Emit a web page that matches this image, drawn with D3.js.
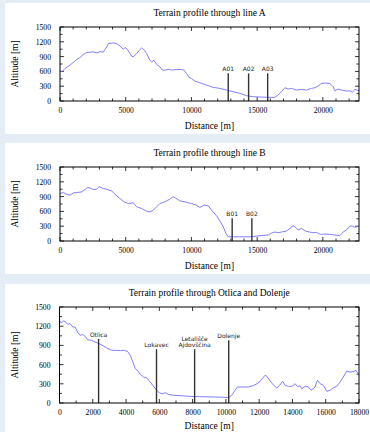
<!DOCTYPE html>
<html>
<head>
<meta charset="utf-8">
<script src="https://cdn.jsdelivr.net/npm/d3@7"></script>
<style>
  html, body { margin: 0; padding: 0; background: #e4ecf5; }
  svg { display: block; }
</style>
</head>
<body>
<svg id="chart" width="370" height="432"></svg>
<script>
// Terrain profiles: [distance m, altitude m]
const profileA = [
  [0,612],[130,592],[380,659],[760,726],[1270,841],[1520,881],[1770,942],[2030,982],
  [2530,995],[2790,975],[3040,1000],[3290,990],[3550,1096],[3680,1164],[4060,1177],
  [4310,1164],[4560,1117],[4820,1049],[4940,1083],[5070,1063],[5200,1016],[5450,908],
  [5580,895],[5830,962],[6080,1043],[6210,1076],[6460,1016],[6590,962],[6840,827],
  [6970,794],[7150,827],[7350,740],[7600,693],[7780,626],[7980,626],[8240,646],
  [8490,626],[8870,639],[9250,639],[9430,626],[9630,558],[9810,478],[10010,457],
  [10260,404],[10640,370],[11150,323],[11660,276],[12160,256],[12670,222],[13180,188],
  [13690,155],[14190,108],[14700,87],[15210,81],[15710,74],[16350,74],[16600,121],
  [16850,188],[17110,269],[17360,242],[17610,256],[17990,222],[18370,235],[18750,222],
  [19130,256],[19390,269],[19640,303],[19890,356],[20150,363],[20530,356],[20780,289],
  [20910,208],[21160,242],[21410,222],[21790,202],[22050,208],[22250,175],[22430,235],
  [22760,208]
];
const profileB = [
  [0,962],[250,982],[510,948],[760,928],[1010,975],[1270,982],[1650,995],[1900,1043],
  [2080,1083],[2280,1076],[2480,1049],[2740,1043],[2990,1103],[3290,1063],[3550,1049],
  [3930,1016],[4180,948],[4560,861],[4870,794],[5200,760],[5580,774],[5830,693],
  [6210,659],[6590,605],[6890,592],[7100,626],[7350,693],[7600,760],[7860,780],
  [8110,814],[8360,847],[8570,895],[8740,881],[9120,814],[9500,794],[9760,774],
  [10010,760],[10390,726],[10640,679],[10950,726],[11280,713],[11530,626],[11910,511],
  [12160,410],[12420,289],[12620,155],[12800,85],[13180,85],[14570,85],[14950,100],
  [15460,114],[15840,121],[16090,161],[16350,182],[16600,168],[16850,182],[17230,202],
  [17490,256],[17740,309],[17940,276],[18120,222],[18370,256],[18630,208],[18880,188],
  [19260,168],[19510,175],[19820,134],[20150,141],[20530,134],[20910,121],[21290,108],
  [21540,182],[21790,222],[22050,303],[22250,303],[22430,276],[22760,303]
];
const profileC = [
  [0,1292],[100,1250],[240,1281],[380,1266],[500,1229],[640,1240],[800,1187],[940,1187],
  [1080,1109],[1240,1057],[1380,1073],[1540,1042],[1680,990],[1940,979],[2140,953],
  [2380,927],[2640,891],[2840,859],[3140,823],[3440,823],[3680,818],[3850,823],
  [4090,807],[4250,745],[4410,641],[4550,536],[4690,510],[4850,448],[5050,406],
  [5250,391],[5450,328],[5650,260],[5850,198],[6010,156],[6210,146],[6350,161],
  [6550,135],[6850,120],[7250,115],[7850,104],[8450,99],[9250,94],[9850,89],
  [10170,83],[10350,120],[10550,198],[10690,250],[10950,250],[11350,250],[11650,271],
  [11950,312],[12150,370],[12350,432],[12450,422],[12660,344],[12860,281],[13060,234],
  [13220,276],[13420,339],[13560,276],[13760,260],[13960,260],[14160,302],[14300,260],
  [14460,266],[14560,224],[14760,260],[14960,250],[15120,198],[15360,250],[15500,354],
  [15660,302],[15860,276],[16060,182],[16260,198],[16460,240],[16660,260],[16860,328],
  [17060,406],[17260,500],[17460,484],[17660,490],[17820,510],[18000,432]
];

// Site markers: label lines, distance, top altitude of the marker post
const markerLabelsA = [["A01"],["A02"],["A03"]];
const markerDistA = [12800, 14350, 15800];
const markerTopA = [560, 560, 560];

const markerLabelsB = [["B01"],["B02"]];
const markerDistB = [13100, 14600];
const markerTopB = [460, 460];

const markerLabelsC = [["Otlica"],["Lokavec"],["Letališče","Ajdovščina"],["Dolenje"]];
const markerDistC = [2350, 5830, 8120, 10170];
const markerTopC = [1000, 840, 840, 980];

const titles = [
  "Terrain profile through line A",
  "Terrain profile through line B",
  "Terrain profile through Otlica and Dolenje"
];
const xTicksAB = [0, 5000, 10000, 15000, 20000];
const xTicksC = [0, 2000, 4000, 6000, 8000, 10000, 12000, 14000, 16000, 18000];
const yTicks = [0, 300, 600, 900, 1200, 1500];

const svg = d3.select("#chart");
const serif = "'Liberation Serif', 'Times New Roman', serif";
const sans = "'DejaVu Sans', sans-serif";

function drawPanel(cfg) {
  const g = svg.append("g");
  // white panel card
  g.append("rect")
    .attr("x", 5).attr("y", cfg.panelTop)
    .attr("width", 365).attr("height", cfg.panelH)
    .attr("fill", "#ffffff");

  const x = d3.scaleLinear().domain(cfg.xDomain).range([cfg.left, cfg.right]);
  const y = d3.scaleLinear().domain([0, 1500]).range([cfg.bottom, cfg.top]);

  // title
  g.append("text")
    .attr("x", (cfg.left + cfg.right) / 2).attr("y", cfg.titleY)
    .attr("text-anchor", "middle")
    .attr("font-family", serif).attr("font-size", 9.5)
    .text(cfg.title);

  // minor ticks (inward, mirrored)
  const minorX = d3.range(cfg.xDomain[0], cfg.xDomain[1] + 1, cfg.xMinor);
  const minorY = d3.range(0, 1501, 150);
  const tickG = g.append("g").attr("stroke", "#000").attr("stroke-width", 0.8);
  minorX.forEach(v => {
    const isMajor = cfg.xTicks.includes(v);
    const len = isMajor ? 4 : 2.5;
    tickG.append("line").attr("x1", x(v)).attr("x2", x(v)).attr("y1", cfg.bottom).attr("y2", cfg.bottom - len);
    tickG.append("line").attr("x1", x(v)).attr("x2", x(v)).attr("y1", cfg.top).attr("y2", cfg.top + len);
  });
  minorY.forEach(v => {
    const isMajor = yTicks.includes(v);
    const len = isMajor ? 4 : 2.5;
    tickG.append("line").attr("y1", y(v)).attr("y2", y(v)).attr("x1", cfg.left).attr("x2", cfg.left + len);
    tickG.append("line").attr("y1", y(v)).attr("y2", y(v)).attr("x1", cfg.right).attr("x2", cfg.right - len);
  });

  // x tick labels via axis generator (ticks drawn manually above)
  const xAxis = d3.axisBottom(x).tickValues(cfg.xTicks).tickSize(0).tickPadding(0).tickFormat(d3.format("d"));
  const xa = g.append("g").attr("transform", `translate(0,${cfg.bottom + 7})`).call(xAxis);
  xa.select(".domain").remove();
  xa.selectAll("text").attr("font-family", serif).attr("font-size", 7.7).attr("fill", "#000").attr("dy", "0.71em");

  const yAxis = d3.axisLeft(y).tickValues(yTicks).tickSize(0).tickPadding(0).tickFormat(d3.format("d"));
  const ya = g.append("g").attr("transform", `translate(${cfg.left - 9},0)`).call(yAxis);
  ya.select(".domain").remove();
  ya.selectAll("text").attr("font-family", serif).attr("font-size", 7.7).attr("fill", "#000");

  // axis titles
  g.append("text")
    .attr("x", (cfg.left + cfg.right) / 2).attr("y", cfg.xLabelY)
    .attr("text-anchor", "middle")
    .attr("font-family", serif).attr("font-size", 9.5)
    .text("Distance [m]");
  g.append("text")
    .attr("transform", `translate(18,${(cfg.top + cfg.bottom) / 2}) rotate(-90)`)
    .attr("text-anchor", "middle")
    .attr("font-family", serif).attr("font-size", 9.5)
    .text("Altitude [m]");

  // profile line
  const line = d3.line().x(d => x(d[0])).y(d => y(d[1]));
  g.append("path").datum(cfg.profile)
    .attr("d", line)
    .attr("fill", "none")
    .attr("stroke", "#8080ff")
    .attr("stroke-width", 1)
    .attr("stroke-linejoin", "round");

  // marker posts and labels
  cfg.markerDist.forEach((d, i) => {
    g.append("line")
      .attr("x1", x(d)).attr("x2", x(d))
      .attr("y1", y(0)).attr("y2", y(cfg.markerTop[i]))
      .attr("stroke", "#333").attr("stroke-width", 1.4);
    const lines = cfg.markerLabels[i];
    const t = g.append("text")
      .attr("text-anchor", "middle")
      .attr("font-family", sans).attr("font-size", 6)
      .attr("fill", "#222");
    lines.forEach((s, k) => {
      t.append("tspan")
        .attr("x", x(d))
        .attr("y", y(cfg.markerTop[i]) - 2 - (lines.length - 1 - k) * 6.5)
        .text(s);
    });
  });

  // plot border
  g.append("rect")
    .attr("x", cfg.left).attr("y", cfg.top)
    .attr("width", cfg.right - cfg.left).attr("height", cfg.bottom - cfg.top)
    .attr("fill", "none").attr("stroke", "#000").attr("stroke-width", 1);
}

drawPanel({
  panelTop: 3, panelH: 131, title: titles[0], titleY: 16,
  left: 60, right: 359, top: 27, bottom: 101, xLabelY: 129,
  xDomain: [0, 22750], xTicks: xTicksAB, xMinor: 1000,
  profile: profileA, markerDist: markerDistA, markerTop: markerTopA, markerLabels: markerLabelsA
});
drawPanel({
  panelTop: 143, panelH: 131, title: titles[1], titleY: 156,
  left: 60, right: 359, top: 167, bottom: 241, xLabelY: 269,
  xDomain: [0, 22750], xTicks: xTicksAB, xMinor: 1000,
  profile: profileB, markerDist: markerDistB, markerTop: markerTopB, markerLabels: markerLabelsB
});
drawPanel({
  panelTop: 284, panelH: 148, title: titles[2], titleY: 296,
  left: 59.5, right: 359, top: 307, bottom: 403, xLabelY: 429,
  xDomain: [0, 18000], xTicks: xTicksC, xMinor: 1000,
  profile: profileC, markerDist: markerDistC, markerTop: markerTopC, markerLabels: markerLabelsC
});
</script>
</body>
</html>
